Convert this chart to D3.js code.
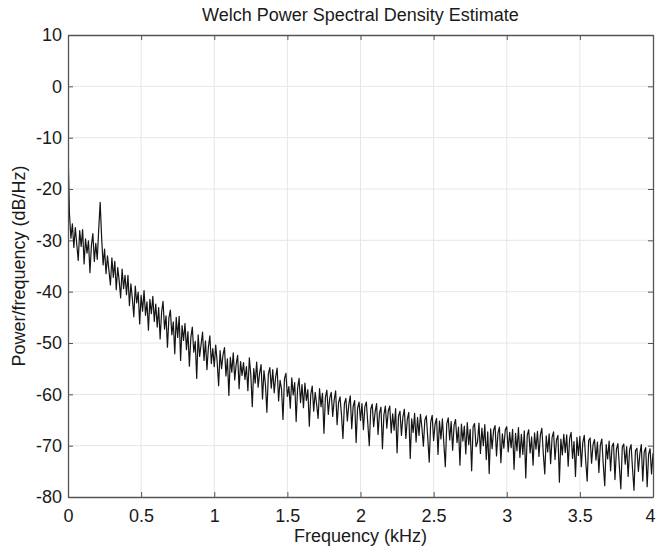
<!DOCTYPE html>
<html>
<head>
<meta charset="utf-8">
<script src="https://cdn.jsdelivr.net/npm/d3@7"></script>
<style>
  body { margin: 0; background: #fff; }
  svg text { font-family: "Liberation Sans", Arial, sans-serif; fill: #1a1a1a; }
</style>
</head>
<body>
<div class="vis"></div>
<script>

//  data  //

// frequency grid (kHz), one bin every 10 Hz
var freqStep = 0.01;
var freqMax = 4;

// power spectral density estimate (dB/Hz), read off the plot bin by bin
var psdValues = [
	-12, -24.9, -29.6, -26.8, -31.4, -27.5, -30.8, -33.9, -28.1, -31.2, -27.9, -34.6, -29.7, -32.5, -30.1, -36.3, -31.0, -28.7, -34.1, -30.6,
	-33.7, -27.9, -22.6, -29.5, -34.8, -31.7, -36.5, -33.0, -35.9, -38.7, -33.4, -37.2, -34.1, -39.6, -35.3, -37.9, -41.2, -35.6, -39.4, -36.8,
	-40.6, -36.8, -42.7, -38.5, -41.3, -44.9, -38.9, -42.2, -40.1, -46.3, -40.7, -43.8, -39.8, -44.6, -42.0, -47.5, -41.5, -44.3, -40.9, -45.8,
	-42.4, -46.9, -43.1, -49.2, -44.0, -41.9, -47.3, -44.7, -50.8, -45.1, -43.6, -48.4, -45.9, -52.1, -45.0, -48.9, -44.8, -53.4, -46.6, -49.5,
	-46.2, -51.3, -47.8, -54.5, -48.9, -46.9, -51.8, -49.7, -56.9, -48.4, -52.6, -50.3, -47.9, -53.4, -49.6, -55.2, -50.8, -48.6, -54.0, -51.1,
	-54.6, -50.4, -53.7, -58.3, -51.5, -55.0, -52.3, -50.9, -56.4, -53.1, -60.2, -52.8, -55.7, -51.9, -57.2, -54.1, -52.4, -58.9, -53.6, -56.3,
	-53.8, -57.1, -54.6, -59.3, -52.9, -56.2, -62.4, -55.0, -57.8, -53.7, -58.6, -55.9, -54.2, -60.9, -55.4, -58.1, -63.5, -56.0, -54.8, -58.8,
	-55.2, -59.7, -56.6, -54.9, -61.3, -57.3, -59.0, -64.9, -57.0, -55.9, -60.4, -58.5, -62.7, -56.8, -60.1, -57.7, -65.3, -58.8, -56.9, -61.6,
	-58.1, -62.6, -57.8, -61.2, -59.1, -66.2, -60.0, -58.4, -63.3, -59.6, -61.9, -64.7, -58.9, -62.4, -59.8, -67.6, -60.6, -59.2, -63.9, -60.7,
	-59.6, -64.3, -61.1, -59.3, -65.9, -61.6, -60.5, -64.0, -68.6, -61.8, -60.8, -65.2, -62.0, -60.3, -66.7, -62.3, -61.2, -69.4, -62.7, -61.5,
	-65.1, -61.8, -66.9, -62.4, -61.5, -65.7, -70.0, -62.9, -61.9, -66.3, -63.4, -61.8, -67.8, -63.6, -62.5, -70.6, -64.0, -62.3, -66.6, -63.2,
	-62.3, -67.5, -63.8, -67.0, -62.8, -71.4, -64.2, -63.3, -68.0, -64.4, -62.9, -68.6, -64.9, -63.5, -72.5, -64.8, -67.4, -63.7, -69.3, -64.5,
	-68.0, -63.9, -66.5, -70.1, -65.0, -64.2, -68.5, -73.2, -65.4, -64.1, -69.0, -65.8, -64.7, -71.7, -65.2, -68.7, -64.8, -69.6, -74.1, -65.7,
	-64.6, -68.9, -65.3, -70.9, -66.0, -64.9, -69.4, -66.4, -73.8, -65.8, -69.1, -66.2, -71.6, -65.5, -69.8, -66.8, -74.9, -66.3, -65.7, -70.2,
	-69.3, -65.6, -71.5, -66.6, -70.0, -65.9, -72.7, -67.3, -75.4, -66.7, -70.6, -67.0, -66.1, -72.0, -67.5, -66.4, -73.3, -67.7, -70.5, -66.9,
	-66.3, -71.2, -67.4, -70.4, -66.8, -74.6, -67.6, -71.0, -66.5, -72.3, -67.8, -71.7, -67.1, -76.3, -68.0, -66.9, -71.4, -68.3, -73.8, -67.5,
	-70.7, -67.2, -72.1, -67.9, -66.6, -71.6, -75.5, -68.1, -71.2, -67.7, -73.5, -68.4, -67.3, -72.7, -68.9, -68.0, -77.1, -68.7, -71.8, -67.8,
	-71.3, -67.9, -74.0, -68.6, -67.4, -72.5, -69.2, -76.0, -68.4, -71.9, -68.2, -74.1, -69.4, -68.0, -73.0, -76.9, -69.0, -68.5, -73.4, -69.8,
	-68.8, -72.8, -69.3, -75.2, -69.9, -68.7, -73.7, -77.8, -69.8, -72.6, -69.1, -74.9, -70.1, -69.5, -76.6, -70.7, -69.6, -74.0, -78.4, -70.3,
	-69.7, -73.6, -70.2, -76.0, -70.8, -69.8, -74.5, -78.7, -71.0, -70.5, -75.0, -71.6, -69.8, -76.9, -71.2, -70.4, -78.0, -71.7, -70.6, -75.5,
	-71.5
];

// tick labels
var xTicks = [0, 0.5, 1, 1.5, 2, 2.5, 3, 3.5, 4];
var yTicks = [10, 0, -10, -20, -30, -40, -50, -60, -70, -80];

var titleText = "Welch Power Spectral Density Estimate";
var xLabelText = "Frequency (kHz)";
var yLabelText = "Power/frequency (dB/Hz)";


//  svg setup  //

var width = 657, height = 548;
var margin = { top: 35, right: 4, bottom: 51, left: 68 };
var plotW = width - margin.left - margin.right;
var plotH = height - margin.top - margin.bottom;

var svg = d3.select(".vis").append("svg")
	.attr("width", width)
	.attr("height", height);

var g = svg.append("g")
	.attr("transform", "translate(" + margin.left + "," + margin.top + ")");

var x = d3.scaleLinear().domain([0, freqMax]).range([0, plotW]);
var y = d3.scaleLinear().domain([-80, 10]).range([plotH, 0]);

// clip the trace to the axes box
g.append("clipPath").attr("id", "plotClip")
	.append("rect").attr("width", plotW).attr("height", plotH);

// grid lines
g.selectAll(".vgrid").data(xTicks.slice(1, -1)).enter().append("line")
	.attr("x1", d => x(d)).attr("x2", d => x(d))
	.attr("y1", 0).attr("y2", plotH)
	.attr("stroke", "#e6e6e6").attr("stroke-width", 1);

g.selectAll(".hgrid").data(yTicks.slice(1, -1)).enter().append("line")
	.attr("x1", 0).attr("x2", plotW)
	.attr("y1", d => y(d)).attr("y2", d => y(d))
	.attr("stroke", "#e6e6e6").attr("stroke-width", 1);

// the psd trace
var points = psdValues.map(function(v, i) { return [i * freqStep, v]; });

var line = d3.line()
	.x(d => x(d[0]))
	.y(d => y(d[1]));

g.append("path")
	.datum(points)
	.attr("clip-path", "url(#plotClip)")
	.attr("fill", "none")
	.attr("stroke", "#141414")
	.attr("stroke-width", 1.2)
	.attr("stroke-linejoin", "round")
	.attr("d", line);

// axes, ticks pointing inward (box on)
var axisColor = "#555";
var plainFormat = function(d) { return String(d); };

var xAxis = g.append("g")
	.attr("transform", "translate(0," + plotH + ")")
	.call(d3.axisBottom(x).tickValues(xTicks).tickSizeInner(-5).tickSizeOuter(0).tickPadding(12)
		.tickFormat(plainFormat));

var yAxis = g.append("g")
	.call(d3.axisLeft(y).tickValues(yTicks).tickSizeInner(-5).tickSizeOuter(0).tickPadding(6)
		.tickFormat(plainFormat));

var xTop = g.append("g")
	.call(d3.axisTop(x).tickValues(xTicks).tickSizeInner(-5).tickSizeOuter(0).tickFormat(""));

var yRight = g.append("g")
	.attr("transform", "translate(" + plotW + ",0)")
	.call(d3.axisRight(y).tickValues(yTicks).tickSizeInner(-5).tickSizeOuter(0).tickFormat(""));

[xAxis, yAxis, xTop, yRight].forEach(function(a) {
	a.select(".domain").attr("stroke", axisColor).attr("stroke-width", 1.3);
	a.selectAll(".tick line").attr("stroke", axisColor);
	a.selectAll(".tick text")
		.style("font-family", "'Liberation Sans', Arial, sans-serif")
		.style("font-size", "18px")
		.attr("fill", "#1a1a1a");
});

// keep the last x label inside the page
xAxis.selectAll(".tick text").filter(d => d === freqMax).attr("dx", -3);

// titles
svg.append("text")
	.attr("x", margin.left + plotW / 2)
	.attr("y", 21)
	.attr("text-anchor", "middle")
	.style("font-size", "18px")
	.text(titleText);

svg.append("text")
	.attr("x", margin.left + plotW / 2)
	.attr("y", 542)
	.attr("text-anchor", "middle")
	.style("font-size", "18px")
	.text(xLabelText);

svg.append("text")
	.attr("transform", "translate(25," + (margin.top + plotH / 2) + ") rotate(-90)")
	.attr("text-anchor", "middle")
	.style("font-size", "18px")
	.text(yLabelText);

</script>
</body>
</html>
